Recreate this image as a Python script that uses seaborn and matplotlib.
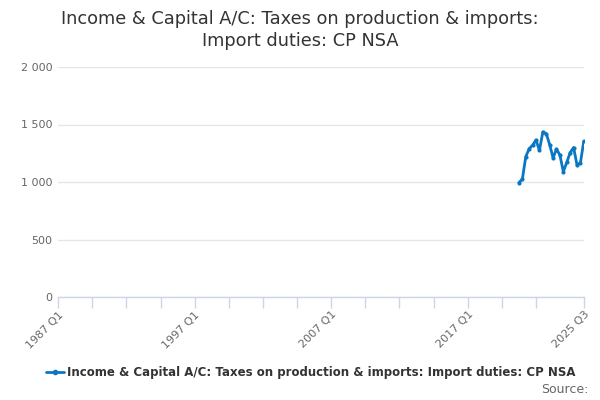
import matplotlib
matplotlib.use("Agg")
import matplotlib.pyplot as plt
from matplotlib.ticker import FuncFormatter, FixedLocator
from matplotlib.lines import Line2D
import pandas as pd
import seaborn as sns

# data (GBP million)
quarters = ["2020 Q4", "2021 Q1", "2021 Q2", "2021 Q3", "2021 Q4",
            "2022 Q1", "2022 Q2", "2022 Q3", "2022 Q4", "2023 Q1",
            "2023 Q2", "2023 Q3", "2023 Q4", "2024 Q1", "2024 Q2",
            "2024 Q3", "2024 Q4", "2025 Q1", "2025 Q2", "2025 Q3"]
values = [995, 1025, 1220, 1290, 1320,
          1365, 1275, 1435, 1420, 1325,
          1210, 1285, 1235, 1090, 1170,
          1255, 1300, 1150, 1165, 1355]
tick_labels = ["1987 Q1", "1997 Q1", "2007 Q1", "2017 Q1", "2025 Q3"]
series_name = "Income & Capital A/C: Taxes on production & imports: Import duties: CP NSA"
title = "Income & Capital A/C: Taxes on production & imports:\nImport duties: CP NSA"


def q_index(label):
    # quarters counted from 1987 Q1
    y, q = label.split(" Q")
    return (int(y) - 1987) * 4 + int(q) - 1


df = pd.DataFrame({"pos": [q_index(q) for q in quarters], "value": values})

sns.set_style("white")
plt.rcParams['font.family'] = ['DejaVu Sans']

blue = "#0a77c2"
fig = plt.figure(figsize=(6, 4), dpi=100)
ax = fig.add_axes([0.097, 0.2575, 0.876, 0.575])

sns.lineplot(data=df, x="pos", y="value", ax=ax, color=blue, linewidth=2,
             marker="o", markersize=3, markeredgewidth=0)

ax.set_xlim(0, q_index("2025 Q3"))
ax.set_ylim(0, 2000)
ax.set_yticks([0, 500, 1000, 1500, 2000])
ax.yaxis.set_major_formatter(FuncFormatter(lambda v, p: f"{int(v):,}".replace(",", " ")))
ax.grid(axis="y", color="#e6e6e6", linewidth=1)
ax.set_axisbelow(True)

major = [q_index(t) for t in tick_labels]
ax.xaxis.set_major_locator(FixedLocator(major))
ax.set_xticklabels(tick_labels, rotation=45, ha="right", rotation_mode="anchor")
minor = [p for p in range(0, 150, 10) if p not in major]
ax.xaxis.set_minor_locator(FixedLocator(minor))
ax.tick_params(axis="x", which="both", length=8, width=1, color="#ccd6eb",
               direction="out", bottom=True, labelsize=8, labelcolor="#666666", pad=1)
ax.tick_params(axis="y", length=0, labelsize=8, labelcolor="#666666", pad=4)

for s in ["top", "right", "left"]:
    ax.spines[s].set_visible(False)
ax.spines["bottom"].set_color("#ccd6eb")
ax.spines["bottom"].set_linewidth(1)
ax.set_xlabel("")
ax.set_ylabel("")

fig.suptitle(title, y=0.975, fontsize=12.8, color="#333333", linespacing=1.25)

handle = Line2D([], [], color=blue, linewidth=2, marker="o", markersize=3)
fig.legend([handle], [series_name], loc="center", bbox_to_anchor=(0.518, 0.068),
           frameon=False, handlelength=1.5, handletextpad=0.3,
           prop={"weight": "bold", "size": 8.5})
for t in fig.legends[0].get_texts():
    t.set_color("#333333")

fig.text(0.98, 0.01, "Source:", ha="right", va="bottom", fontsize=9, color="#666666")

fig.savefig("out.png", dpi=100)
